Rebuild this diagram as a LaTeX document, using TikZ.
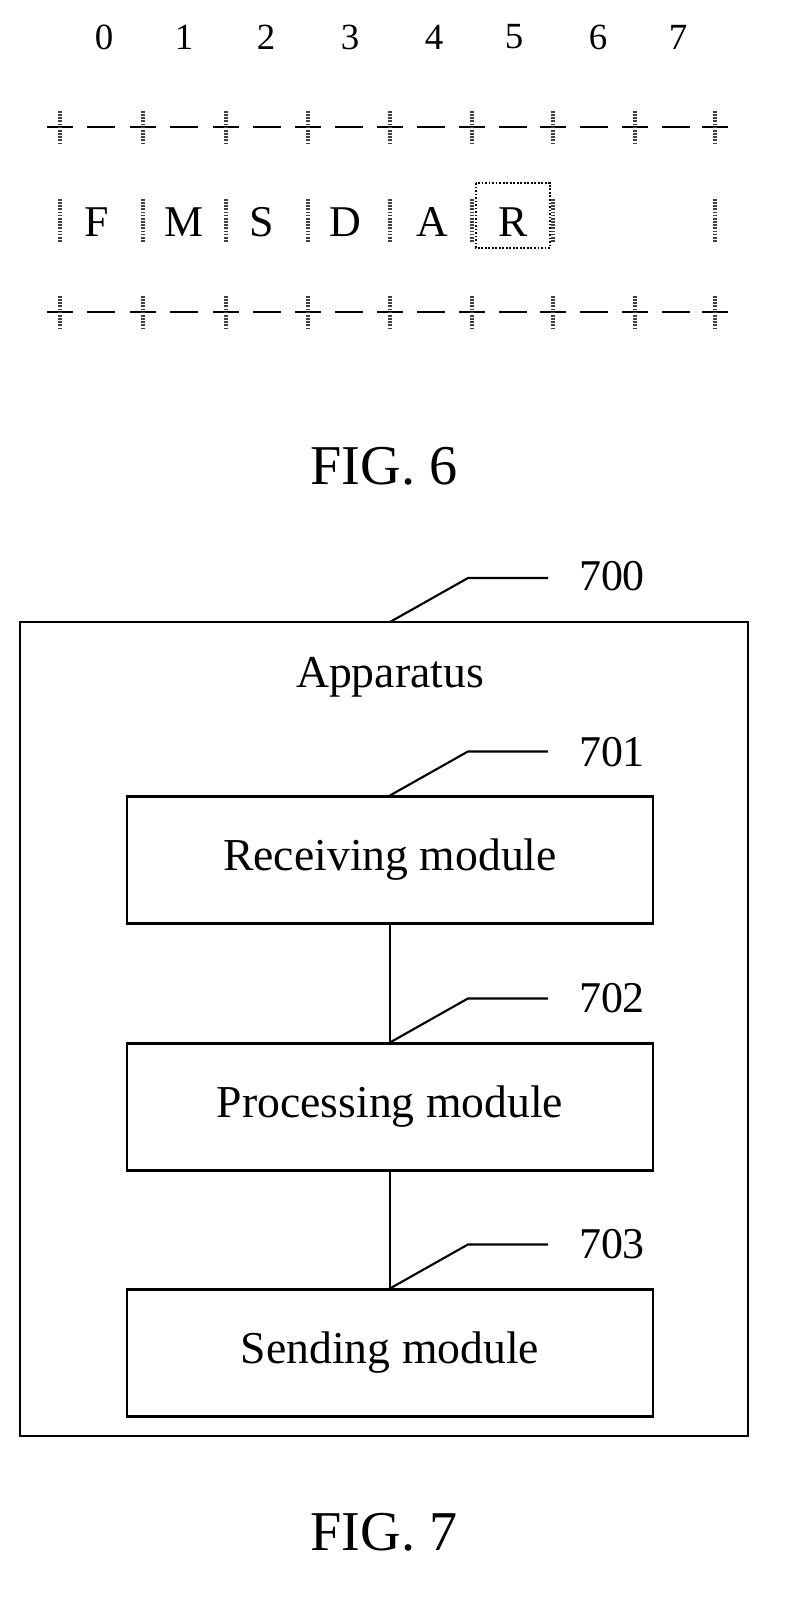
\documentclass[tikz,border=0pt]{standalone}
\usepackage{fontspec}
\setmainfont{Liberation Serif}
\usepackage{tikz}
\usetikzlibrary{positioning}

\begin{document}
\begin{tikzpicture}[
    x=0.02cm, y=-0.02cm,
    hatch/.style={line width=2.4pt, dash pattern=on 0.9pt off 0.9pt, black!75},
    seg/.style={line width=1.2pt},
    module/.style={rectangle, draw, line width=1.2pt, minimum width=526*0.02cm, minimum height=127*0.02cm, font=\fontsize{26}{28}\selectfont},
    lead/.style={line width=1.2pt},
    ref/.style={font=\fontsize{25}{27}\selectfont},
    caption/.style={font=\fontsize{32}{35}\selectfont}
]
\useasboundingbox (0,0) rectangle (794,1619);

% FIG. 6
\foreach \d [count=\i from 0] in {104,184,266,350,434,514,598,678}
    \node[font=\fontsize{21}{23}\selectfont] (num\i) at (\d,37) {\i};
\foreach \x in {60,143,226,308,390,472,553,635,715} {
    \foreach \y in {127,312} {
        \draw[seg] (\x-13,\y) -- (\x+13,\y);
        \draw[hatch] (\x,\y-16) -- (\x,\y+16);
    }
}
\foreach \x in {60,143,226,308,390,472,553,635} {
    \foreach \y in {127,312}
        \draw[seg] (\x+27,\y) -- (\x+55,\y);
}
\foreach \x in {60,143,226,308,390,472,553,715}
    \draw[hatch] (\x,199) -- (\x,243);
\foreach \l/\d in {F/97,M/184,S/262,D/345,A/432,R/513}
    \node[font=\fontsize{25}{27}\selectfont] (let\l) at (\d,222) {\l};
\draw[line width=1.6pt, dash pattern=on 1pt off 1pt] (476,183) rectangle (550,248);
\node[caption] (fig6) at (384,466) {FIG. 6};

% FIG. 7
\draw[line width=1.2pt] (20,622) rectangle (748,1436);
\node[font=\fontsize{26}{28}\selectfont] (app) at (390,677) {Apparatus};
\node[module] (recv) at (390,860) {Receiving module};
\node[module] (proc) at (390,1107) {Processing module};
\node[module] (send) at (390,1353) {Sending module};
\draw[lead] (recv.south) -- (proc.north);
\draw[lead] (proc.south) -- (send.north);

\draw[lead] (390,622) -- (468,578) -- (548,578);
\node[ref] (r700) at (612,576) {700};
\draw[lead] (recv.north) -- ++(78,-44) -- ++(80,0);
\node[ref] (r701) at (612,752) {701};
\draw[lead] (proc.north) -- ++(78,-44) -- ++(80,0);
\node[ref] (r702) at (612,998) {702};
\draw[lead] (send.north) -- ++(78,-44) -- ++(80,0);
\node[ref] (r703) at (612,1244) {703};

\node[caption] (fig7) at (384,1532) {FIG. 7};
\end{tikzpicture}
\end{document}
